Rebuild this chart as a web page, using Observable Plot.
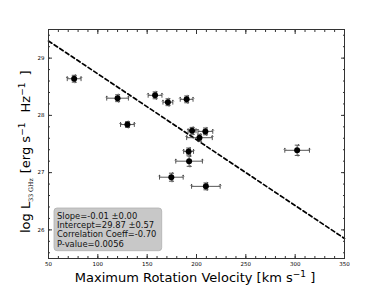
<!DOCTYPE html>
<html>
<head>
<meta charset="utf-8">
<script src="https://cdn.jsdelivr.net/npm/d3@7"></script>
<script src="https://cdn.jsdelivr.net/npm/@observablehq/plot@0.6"></script>
<style>
  html, body { margin: 0; padding: 0; background: #fff; }
  #chart { width: 382px; height: 287px; }
</style>
</head>
<body>
<div id="chart"></div>
<script>
// Data
const velocity    = [76, 120, 158, 171, 190, 130, 195.5, 209, 203, 192, 192.5, 174.5, 209.5, 302];
const velocityErr = [7, 11, 7, 5, 6.5, 7, 4, 7.5, 13, 5, 13.5, 12, 14.5, 12.5];
const logLum      = [28.64, 28.30, 28.35, 28.23, 28.28, 27.84, 27.73, 27.72, 27.61, 27.37, 27.20, 26.92, 26.76, 27.39];
const logLumErr   = [0.06, 0.06, 0.06, 0.06, 0.06, 0.05, 0.06, 0.06, 0.06, 0.06, 0.09, 0.07, 0.06, 0.09];

const fitX = [50, 350];
const fitY = [29.30, 25.85];

const xMajor = [50, 100, 150, 200, 250, 300, 350];
const xMinor = d3.range(50, 351, 10);
const yMajor = [26, 27, 28, 29];
const yMinor = d3.range(25.6, 29.5, 0.2).map(v => +v.toFixed(1));

const statsLines = [
  "Slope=-0.01 \u00b10.00",
  "Intercept=29.87 \u00b10.57",
  "Correlation Coeff=-0.70",
  "P-value=0.0056"
];

const data = velocity.map((v, i) => ({x: v, xe: velocityErr[i], y: logLum[i], ye: logLumErr[i]}));

const NS = "http://www.w3.org/2000/svg";
function el(tag, attrs, text) {
  const e = document.createElementNS(NS, tag);
  for (const k in attrs) e.setAttribute(k, attrs[k]);
  if (text != null) e.textContent = text;
  return e;
}

const FONT = "DejaVu Sans, sans-serif";
const errColor = "#444";
const frameColor = "#333";

function statsBox() {
  const g = el("g", {"text-anchor": "start"});
  g.appendChild(el("rect", {x: 54, y: 208, width: 107.7, height: 42.7, rx: 3, fill: "#c8c8c8", stroke: "#b0b0b0", "stroke-width": 0.8}));
  statsLines.forEach((t, i) => {
    g.appendChild(el("text", {x: 57, y: 219 + i * 9.2, "text-anchor": "start", "font-family": FONT, "font-size": 8.4, fill: "#111"}, t));
  });
  return g;
}

function xLabel() {
  const t = el("text", {x: 195, y: 282, "text-anchor": "middle", "font-family": FONT, "font-size": 13, fill: "#000"});
  t.appendChild(el("tspan", {}, "Maximum Rotation Velocity [km s"));
  t.appendChild(el("tspan", {dy: -5, "font-size": 9}, "\u22121"));
  t.appendChild(el("tspan", {dy: 5}, " ]"));
  return t;
}

function yLabel() {
  const t = el("text", {transform: "translate(30,233) rotate(-90)", "text-anchor": "start", "font-family": FONT, "font-size": 13, fill: "#000"});
  t.appendChild(el("tspan", {}, "log L"));
  t.appendChild(el("tspan", {dy: 2.5, "font-size": 6.2, "font-family": "DejaVu Serif, serif"}, "33 GHz"));
  t.appendChild(el("tspan", {dy: -2.5, dx: 1}, " [erg s"));
  t.appendChild(el("tspan", {dy: -5, "font-size": 9}, "\u22121"));
  t.appendChild(el("tspan", {dy: 5, dx: 6}, " Hz"));
  t.appendChild(el("tspan", {dy: -5, "font-size": 9}, "\u22121"));
  t.appendChild(el("tspan", {dy: 5, dx: 3}, " ]"));
  return t;
}

const chart = Plot.plot({
  width: 382,
  height: 287,
  marginLeft: 48,
  marginRight: 38,
  marginTop: 29,
  marginBottom: 29,
  style: {fontFamily: FONT, background: "#fff"},
  x: {domain: [50, 350]},
  y: {domain: [25.5, 29.5]},
  marks: [
    Plot.axisX({anchor: "bottom", ticks: xMajor, tickSize: 0, tickPadding: 4, fontSize: 5.5, label: null, tickFormat: d => String(d)}),
    Plot.axisY({anchor: "left", ticks: yMajor, tickSize: 0, tickPadding: 4, fontSize: 5.5, label: null, tickFormat: d => String(d)}),
    Plot.axisX({anchor: "bottom", ticks: xMajor, tickSize: -4, text: null, label: null, stroke: frameColor}),
    Plot.axisX({anchor: "bottom", ticks: xMinor, tickSize: -2, text: null, label: null, stroke: frameColor}),
    Plot.axisX({anchor: "top", ticks: xMajor, tickSize: -4, text: null, label: null, stroke: frameColor}),
    Plot.axisX({anchor: "top", ticks: xMinor, tickSize: -2, text: null, label: null, stroke: frameColor}),
    Plot.axisY({anchor: "left", ticks: yMajor, tickSize: -4, text: null, label: null, stroke: frameColor}),
    Plot.axisY({anchor: "left", ticks: yMinor, tickSize: -2, text: null, label: null, stroke: frameColor}),
    Plot.axisY({anchor: "right", ticks: yMajor, tickSize: -4, text: null, label: null, stroke: frameColor}),
    Plot.axisY({anchor: "right", ticks: yMinor, tickSize: -2, text: null, label: null, stroke: frameColor}),
    Plot.line(fitX.map((x, i) => ({x, y: fitY[i]})), {x: "x", y: "y", stroke: "#000", strokeWidth: 1.7, strokeDasharray: "4,2.8"}),
    Plot.link(data, {x1: d => d.x - d.xe, x2: d => d.x + d.xe, y1: "y", y2: "y", stroke: errColor, strokeWidth: 0.9}),
    Plot.link(data, {x1: "x", x2: "x", y1: d => d.y - d.ye, y2: d => d.y + d.ye, stroke: errColor, strokeWidth: 0.9}),
    Plot.vector(data, {x: d => d.x - d.xe, y: "y", length: 4, anchor: "middle", rotate: 0, stroke: errColor, strokeWidth: 0.9}),
    Plot.vector(data, {x: d => d.x + d.xe, y: "y", length: 4, anchor: "middle", rotate: 0, stroke: errColor, strokeWidth: 0.9}),
    Plot.vector(data, {x: "x", y: d => d.y - d.ye, length: 4, anchor: "middle", rotate: 90, stroke: errColor, strokeWidth: 0.9}),
    Plot.vector(data, {x: "x", y: d => d.y + d.ye, length: 4, anchor: "middle", rotate: 90, stroke: errColor, strokeWidth: 0.9}),
    Plot.dot(data, {x: "x", y: "y", r: 3, fill: "#000", stroke: "none"}),
    Plot.frame({stroke: frameColor, strokeWidth: 1}),
    statsBox,
    xLabel,
    yLabel
  ]
});

document.getElementById("chart").appendChild(chart);
</script>
</body>
</html>
